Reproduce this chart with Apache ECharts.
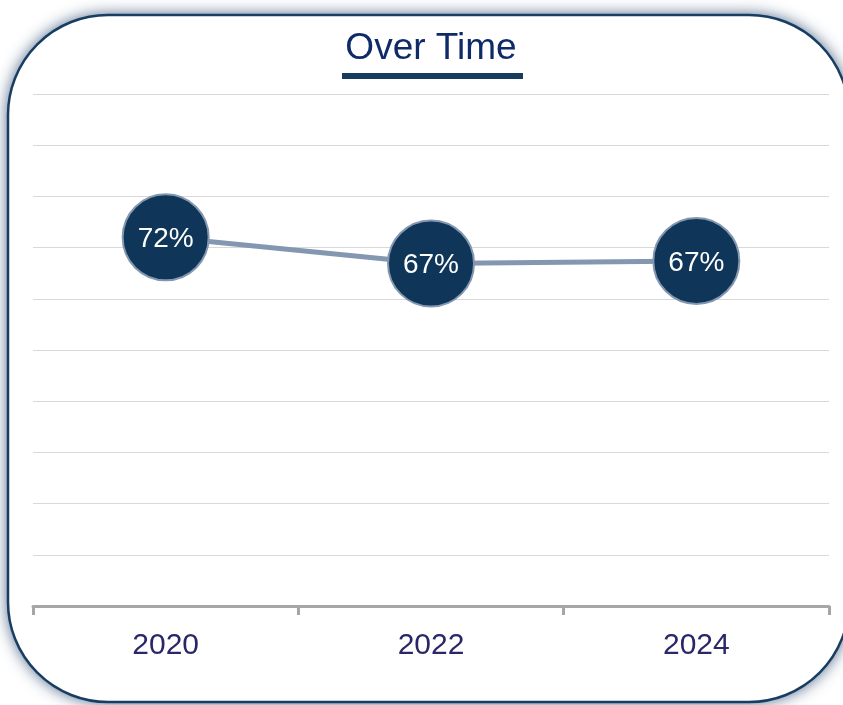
<!DOCTYPE html>
<html>
<head>
<meta charset="utf-8">
<script src="https://cdn.jsdelivr.net/npm/echarts@6/dist/echarts.min.js"></script>
<style>
html,body{margin:0;padding:0;background:#fff;}
#chart{width:843px;height:705px;}
</style>
</head>
<body>
<div id="chart"></div>
<script>
const titleText = 'Over Time';
const categories = ['2020', '2022', '2024'];
const values = [72, 66.9, 67.4];
const yTicks = [0, 10, 20, 30, 40, 50, 60, 70, 80, 90, 100];

const chart = echarts.init(document.getElementById('chart'));
const font = '"Liberation Sans", Arial, sans-serif';
const box = { x: 8, y: 15, width: 841, height: 687, r: 100 };
chart.setOption({
  animation: false,
  backgroundColor: '#ffffff',
  graphic: [
    {
      type: 'rect', z: -10, silent: true,
      shape: box,
      style: { fill: '#ffffff', shadowBlur: 16, shadowColor: 'rgba(40,70,110,0.9)' }
    },
    {
      type: 'rect', z: -9, silent: true,
      shape: box,
      style: { fill: 'none', stroke: '#173d63', lineWidth: 2.5 }
    },
    {
      type: 'text', silent: true,
      style: { x: 431, y: 30, text: titleText, font: '37px ' + font, fill: '#0f2a68',
               align: 'center', verticalAlign: 'top' }
    },
    {
      type: 'rect', silent: true,
      shape: { x: 342, y: 73, width: 181, height: 6 },
      style: { fill: '#173d5e' }
    }
  ],
  grid: { left: 33, right: 14, top: 94, bottom: 99 },
  xAxis: {
    type: 'category',
    data: categories,
    boundaryGap: true,
    axisLine: { lineStyle: { color: '#a6a6a6', width: 3 } },
    axisTick: { show: true, length: 9, lineStyle: { color: '#a6a6a6', width: 3 } },
    axisLabel: { color: '#2a2768', fontSize: 30, fontFamily: font, margin: 25 }
  },
  yAxis: {
    type: 'value',
    min: yTicks[0], max: yTicks[yTicks.length - 1], interval: yTicks[1] - yTicks[0],
    axisLabel: { show: false },
    axisLine: { show: false },
    axisTick: { show: false },
    splitLine: { lineStyle: { color: '#d9d9d9', width: 1 } }
  },
  series: [{
    type: 'line',
    data: values,
    symbol: 'circle',
    symbolSize: 86,
    lineStyle: { color: '#8497b0', width: 5 },
    itemStyle: { color: '#0f3558', borderColor: '#8497b0', borderWidth: 2 },
    label: {
      show: true, position: 'inside', color: '#ffffff', fontSize: 28, fontFamily: font,
      offset: [0, 2],
      formatter: p => Math.round(p.value) + '%'
    }
  }]
});
</script>
</body>
</html>
